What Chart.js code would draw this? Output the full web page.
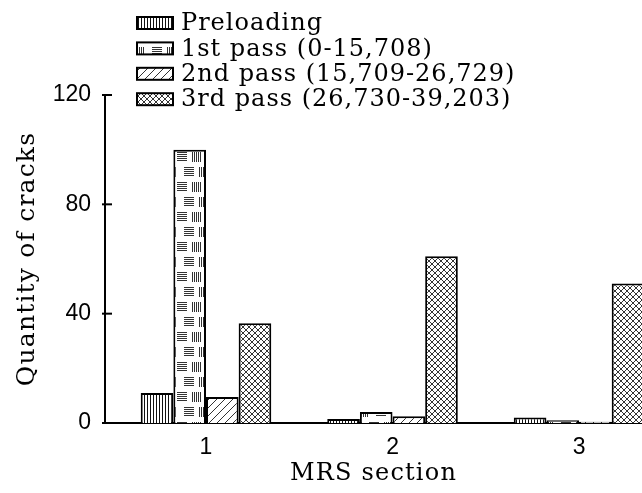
<!DOCTYPE html>
<html>
<head>
<meta charset="utf-8">
<script src="https://cdn.jsdelivr.net/npm/chart.js@4.4.1/dist/chart.umd.min.js"></script>
<style>
html, body { margin: 0; padding: 0; background: #fff; overflow: hidden; }
#wrap { width: 642px; height: 493px; }
</style>
</head>
<body>
<div id="wrap"><canvas id="cracksChart" width="642" height="493"></canvas></div>
<script>
// Dados
const sections = [1, 2, 3];
const seriesLabels = ['Preloading', '1st pass (0-15,708)', '2nd pass (15,709-26,729)', '3rd pass (26,730-39,203)'];
const preloading = [11, 1.5, 2];
const pass1 = [100, 4, 1];
const pass2 = [9.5, 2.5, 0.5];
const pass3 = [36.5, 61, 51];
const yTicks = [0, 40, 80, 120];

const ink = '#000';
const canvas = document.getElementById('cracksChart');
const mainCtx = canvas.getContext('2d');

// Função auxiliar para criar as texturas das barras
function makePattern(w, h, draw) {
    const c = document.createElement('canvas');
    c.width = w;
    c.height = h;
    const g = c.getContext('2d');
    g.fillStyle = '#fff';
    g.fillRect(0, 0, w, h);
    draw(g);
    return mainCtx.createPattern(c, 'repeat');
}

function vBlock(g, x, y) {
    for (let i = 0; i < 5; i++) g.fillRect(x + i * 2, y, 1, 10);
}
function hBlock(g, x, y) {
    for (let i = 0; i < 5; i++) g.fillRect(x, y + i * 2, 10, 1);
}

const patterns = [
    makePattern(3, 3, g => {
        g.fillStyle = '#111';
        g.fillRect(0, 0, 1, 3);
    }),
    makePattern(32, 30, g => {
        g.fillStyle = '#333';
        vBlock(g, 0, 2);
        hBlock(g, 17, 2);
        vBlock(g, 7, 17);
        hBlock(g, 24, 17);
        hBlock(g, -8, 17);
    }),
    makePattern(8, 8, g => {
        g.strokeStyle = '#333';
        g.lineWidth = 1;
        g.beginPath();
        g.moveTo(-1, 9); g.lineTo(9, -1);
        g.moveTo(-1, 1); g.lineTo(1, -1);
        g.moveTo(7, 9); g.lineTo(9, 7);
        g.stroke();
    }),
    makePattern(6, 6, g => {
        g.strokeStyle = '#333';
        g.lineWidth = 1;
        g.beginPath();
        g.moveTo(-1, 7); g.lineTo(7, -1);
        g.moveTo(-1, -1); g.lineTo(7, 7);
        g.stroke();
    })
];

const seriesValues = [preloading, pass1, pass2, pass3];

// Legenda desenhada em coluna, como na figura
const columnLegend = {
    id: 'columnLegend',
    afterDraw(chart) {
        const ctx = chart.ctx;
        ctx.save();
        ctx.letterSpacing = '1px';
        ctx.font = '24px "DejaVu Serif"';
        ctx.textBaseline = 'middle';
        ctx.textAlign = 'left';
        chart.data.datasets.forEach((ds, i) => {
            const y = 23 + i * 25.4;
            ctx.fillStyle = ds.backgroundColor;
            ctx.fillRect(137, y - 6, 36, 12);
            ctx.strokeStyle = ink;
            ctx.lineWidth = 2;
            ctx.strokeRect(137, y - 6, 36, 12);
            ctx.fillStyle = ink;
            ctx.fillText(ds.label, 181, y + 1);
        });
        ctx.restore();
    }
};

// Marcas do eixo y voltadas para dentro; espaçamento das letras só nos títulos
const innerTicks = {
    id: 'innerTicks',
    beforeDraw(chart) {
        chart.ctx.letterSpacing = '1.2px';
    },
    beforeDatasetsDraw(chart) {
        chart.ctx.letterSpacing = '0px';
    },
    afterDraw(chart) {
        const y = chart.scales.y;
        const ctx = chart.ctx;
        ctx.save();
        ctx.strokeStyle = ink;
        ctx.lineWidth = 2;
        yTicks.forEach(v => {
            const py = y.getPixelForValue(v);
            ctx.beginPath();
            ctx.moveTo(y.right - 3, py);
            ctx.lineTo(y.right + 7, py);
            ctx.stroke();
        });
        ctx.restore();
    }
};

const tickFont = { family: 'Liberation Sans', size: 23 };

new Chart(mainCtx, {
    type: 'bar',
    data: {
        datasets: seriesLabels.map((label, i) => ({
            label: label,
            data: sections.map((s, j) => ({ x: s, y: seriesValues[i][j] })),
            backgroundColor: patterns[i],
            borderColor: ink,
            borderWidth: 2,
            categoryPercentage: 0.7,
            barPercentage: 1
        }))
    },
    options: {
        responsive: false,
        animation: false,
        layout: { padding: { top: 95, left: 0, right: 0, bottom: 0 } },
        plugins: {
            legend: { display: false },
            tooltip: { enabled: false }
        },
        scales: {
            x: {
                type: 'linear',
                offset: false,
                min: 0.4585,
                max: 3.3375,
                grid: { display: false, drawTicks: false },
                border: { display: true, color: ink, width: 2 },
                ticks: {
                    z: 1,
                    stepSize: 1,
                    includeBounds: false,
                    padding: 11,
                    color: ink,
                    font: tickFont,
                    callback: v => String(v)
                },
                title: {
                    display: true,
                    text: 'MRS section',
                    color: ink,
                    font: { family: 'DejaVu Serif', size: 24 },
                    padding: { top: 0, bottom: 5 }
                },
                afterFit: s => { s.height = 70; }
            },
            y: {
                min: 0,
                max: 120,
                grid: { display: false, drawTicks: false },
                border: { display: true, color: ink, width: 2 },
                ticks: {
                    z: 1,
                    stepSize: 40,
                    padding: 14,
                    color: ink,
                    font: tickFont
                },
                title: {
                    display: true,
                    text: 'Quantity of cracks',
                    color: ink,
                    font: { family: 'DejaVu Serif', size: 25 },
                    padding: { top: 12, bottom: 0 }
                },
                afterFit: s => { s.width = 105; }
            }
        }
    },
    plugins: [innerTicks, columnLegend]
});
</script>
</body>
</html>
